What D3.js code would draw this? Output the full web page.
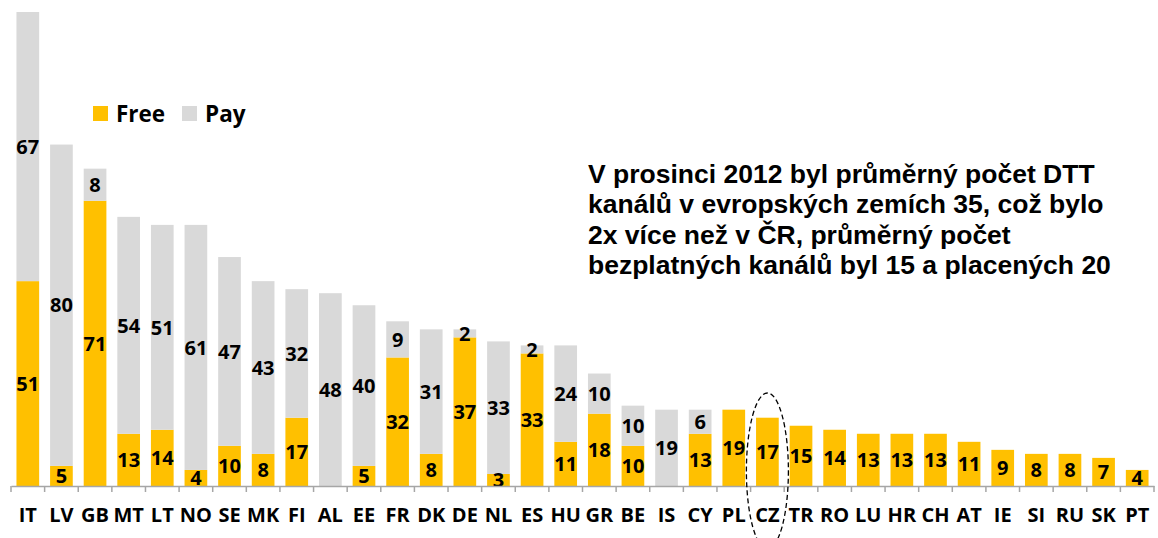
<!DOCTYPE html>
<html>
<head>
<meta charset="utf-8">
<script src="https://cdn.jsdelivr.net/npm/d3@7/dist/d3.min.js"></script>
<style>
  html, body { margin: 0; padding: 0; background: #fff; }
  svg { display: block; }
</style>
</head>
<body>
<svg id="chart" width="1158" height="538"></svg>
<script>
const countries = ["IT","LV","GB","MT","LT","NO","SE","MK","FI","AL","EE","FR","DK","DE","NL","ES","HU","GR","BE","IS","CY","PL","CZ","TR","RO","LU","HR","CH","AT","IE","SI","RU","SK","PT"];
const freeValues = [51,5,71,13,14,4,10,8,17,0,5,32,8,37,3,33,11,18,10,0,13,19,17,15,14,13,13,13,11,9,8,8,7,4];
const payValues  = [67,80,8,54,51,61,47,43,32,48,40,9,31,2,33,2,24,10,10,19,6,0,0,0,0,0,0,0,0,0,0,0,0,0];
const seriesNames = ["Free","Pay"];
const seriesColors = ["#FFC000","#D9D9D9"];
const highlight = "CZ";
const noteLines = [
  "V prosinci 2012 byl průměrný počet DTT",
  "kanálů v evropských zemích 35, což bylo",
  "2x více než v ČR, průměrný počet",
  "bezplatných kanálů byl 15 a placených 20"
];

const svg = d3.select("#chart");
const table = countries.map((c, i) => ({ country: c, Free: freeValues[i], Pay: payValues[i] }));
const stacked = d3.stack().keys(seriesNames)(table);

const baseY = 486;
const x = d3.scaleBand().domain(countries).range([11, 1154]).paddingInner(0.325).paddingOuter(0.1625);
const y = d3.scaleLinear().domain([0, d3.max(table, d => d.Free + d.Pay)]).range([baseY, 12]);
const color = d3.scaleOrdinal().domain(seriesNames).range(seriesColors);

// bars
const layers = svg.append("g").selectAll("g").data(stacked).join("g")
  .attr("fill", d => color(d.key));
layers.selectAll("rect").data(d => d).join("rect")
  .attr("x", d => x(d.data.country))
  .attr("width", x.bandwidth())
  .attr("y", d => y(d[1]))
  .attr("height", d => y(d[0]) - y(d[1]));

// value labels
const labels = svg.append("g")
  .attr("font-family", "'Open Sans', sans-serif")
  .attr("font-weight", 700)
  .attr("font-size", 20)
  .attr("text-anchor", "middle")
  .attr("fill", "#000");
stacked.forEach(layer => {
  labels.selectAll(null).data(layer.filter(d => d[1] - d[0] > 0)).join("text")
    .attr("x", d => x(d.data.country) + x.bandwidth() / 2)
    .attr("y", d => (y(d[0]) + y(d[1])) / 2)
    .attr("dy", "0.36em")
    .text(d => d[1] - d[0]);
});

// axis
const axis = svg.append("g").attr("transform", `translate(0,${baseY})`)
  .call(d3.axisBottom(x).tickSize(0).tickSizeOuter(0).tickPadding(22));
axis.select(".domain").attr("stroke", "#A6A6A6").attr("stroke-width", 1.5);
axis.selectAll(".tick text")
  .attr("font-family", "'Open Sans', sans-serif")
  .attr("font-weight", 700)
  .attr("font-size", 20)
  .attr("fill", "#000");
const step = x.step();
const boundaries = countries.map(c => x(c) - step * x.paddingInner() / 2).concat([x.range()[1]]);
axis.selectAll("line.bt").data(boundaries).join("line")
  .attr("class", "bt")
  .attr("x1", d => d).attr("x2", d => d)
  .attr("y1", 0).attr("y2", 6)
  .attr("stroke", "#A6A6A6").attr("stroke-width", 1.5);

// legend
const legend = svg.append("g").attr("font-family", "'Open Sans', sans-serif")
  .attr("font-weight", 700).attr("font-size", 22.5);
const legendX = [93, 182];
seriesNames.forEach((s, i) => {
  legend.append("rect").attr("x", legendX[i]).attr("y", 106).attr("width", 15).attr("height", 15).attr("fill", color(s));
  legend.append("text").attr("x", legendX[i] + 23).attr("y", 122).text(s);
});

// highlight ellipse around CZ
svg.append("ellipse")
  .attr("cx", x(highlight) + x.bandwidth() / 2)
  .attr("cy", 471)
  .attr("rx", 21)
  .attr("ry", 78)
  .attr("fill", "none")
  .attr("stroke", "#000")
  .attr("stroke-width", 1.3)
  .attr("stroke-dasharray", "5,3");

// note
const note = svg.append("text")
  .attr("font-family", "'Liberation Sans', Arial, sans-serif")
  .attr("font-weight", 700)
  .attr("font-size", 26.5)
  .attr("fill", "#000");
note.selectAll("tspan").data(noteLines).join("tspan")
  .attr("x", 588)
  .attr("y", (d, i) => 183 + i * 30.3)
  .text(d => d);
</script>
</body>
</html>
